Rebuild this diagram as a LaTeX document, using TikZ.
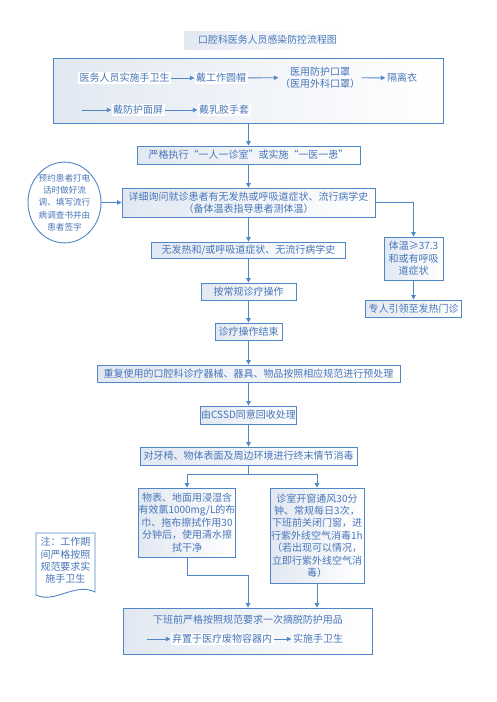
\documentclass[tikz,border=0pt]{standalone}
\usepackage{fontspec}
\setmainfont{Noto Sans CJK SC}
\usetikzlibrary{arrows.meta,shapes.geometric}
\definecolor{lineblue}{RGB}{79,134,198}
\definecolor{textblue}{RGB}{72,118,184}
\definecolor{boxfill}{RGB}{226,232,242}
\begin{document}
\begin{tikzpicture}[x=1pt,y=-1pt,
        box/.style={draw=lineblue,line width=0.9pt,left color=boxfill,right color=white,text=textblue,font=\fontsize{10}{12.4}\selectfont,inner sep=0pt,align=center},
        lbl/.style={fill=white,text=textblue,font=\fontsize{10}{12.4}\selectfont,inner sep=1.5pt,align=center},
        arr/.style={draw=lineblue,line width=0.9pt,-{Triangle[length=4.5pt,width=4.5pt]}},
        ln/.style={draw=lineblue,line width=0.9pt}]
        \useasboundingbox (0,0) rectangle (496,702);

        \shade[left color=boxfill,right color=white] (184,31) rectangle (342,49);
        \node[text=textblue,font=\fontsize{9.9}{12}\selectfont] (title) at (267.5,40){口腔科医务人员感染防控流程图};

        \node[box,minimum width=390pt,minimum height=65pt] (wear) at (248.5,90.5){};
        \node[lbl] (hw1) at (124.5,78){医务人员实施手卫生};
        \node[lbl] (cap) at (221,78){戴工作圆帽};
        \node[lbl,fill=none] (mask) at (320,77.5){医用防护口罩\\（医用外科口罩）};
        \node[lbl] (gown) at (402,78){隔离衣};
        \coordinate (r0) at (82,110);
        \node[lbl] (shield) at (138,110){戴防护面屏};
        \node[lbl] (gloves) at (224,110){戴乳胶手套};
        \draw[arr] (hw1) -- (cap);
        \draw[arr] (cap) -- (mask);
        \draw[arr] (mask) -- (gown);
        \draw[arr] (r0) -- (shield);
        \draw[arr] (shield) -- (gloves);

        \node[box,minimum width=223pt,minimum height=18pt] (strict) at (248.5,155){严格执行“一人一诊室”或实施“一医一患”};
        \node[box,minimum width=253pt,minimum height=29pt] (inquire) at (248.5,202.5){详细询问就诊患者有无发热或呼吸道症状、流行病学史\\（备体温表指导患者测体温）};
        \node[draw=lineblue,line width=0.9pt,ellipse,fill=white,inner sep=0pt,minimum width=65pt,minimum height=75pt,text=textblue,align=center,font=\fontsize{8.6}{12.3}\selectfont] (prebook) at (64.5,202.5){预约患者打电\\话时做好流\\调、填写流行\\病调查书并由\\患者签字};
        \node[box,minimum width=194pt,minimum height=16pt] (nofever) at (248.5,250){无发热和/或呼吸道症状、无流行病学史};
        \node[box,minimum width=95pt,minimum height=17pt] (routine) at (248.5,291.5){按常规诊疗操作};
        \node[box,minimum width=67pt,minimum height=17pt] (done) at (248.5,331.5){诊疗操作结束};
        \node[box,minimum width=59pt,minimum height=43pt] (fever) at (413.5,258.5){体温≥37.3\\和或有呼吸\\道症状};
        \node[box,minimum width=96pt,minimum height=17pt] (guide) at (413.5,308.5){专人引领至发热门诊};
        \node[box,minimum width=303pt,minimum height=17pt] (reuse) at (248.5,373.5){重复使用的口腔科诊疗器械、器具、物品按照相应规范进行预处理};
        \node[box,minimum width=96pt,minimum height=18pt] (cssd) at (248.5,415){由CSSD同意回收处理};
        \node[box,minimum width=217pt,minimum height=18pt] (final) at (248.5,456){对牙椅、物体表面及周边环境进行终末情节消毒};
        \node[box,minimum width=94pt,minimum height=69pt] (surf) at (187,522.5){物表、地面用浸湿含\\有效氯1000mg/L的布\\巾、拖布擦拭作用30\\分钟后，使用清水擦\\拭干净};
        \node[box,minimum width=94pt,minimum height=95pt] (air) at (317,535.5){诊室开窗通风30分\\钟、常规每日3次，\\下班前关闭门窗，进\\行紫外线空气消毒1h\\（若出现可以情况，\\立即行紫外线空气消\\毒）};

        \node[box,minimum width=249pt,minimum height=46pt] (doff) at (247.5,631){};
        \node[lbl,fill=none] (doff1) at (248,620){下班前严格按照规范要求一次摘脱防护用品};
        \coordinate (d0) at (147,639);
        \node[lbl] (discard) at (222,639){弃置于医疗废物容器内};
        \node[lbl] (hw2) at (318,639){实施手卫生};
        \draw[arr] (d0) -- (discard);
        \draw[arr] (discard) -- (hw2);

        \draw[ln,fill=white] (36,533) -- (95,533) -- (95,592) .. controls (75,582) and (55,604) .. (36,595) -- cycle;
        \node[text=textblue,align=center,font=\fontsize{10}{12.4}\selectfont] (note) at (65.5,560.5){注：工作期\\间严格按照\\规范要求实\\施手卫生};

        \draw[arr] (wear.south) -- (strict.north);
        \draw[arr] (strict) -- (inquire);
        \draw[arr] (prebook) -- (inquire);
        \draw[arr] (inquire) -- (nofever);
        \draw[arr] (inquire.east) -| (fever.north);
        \draw[arr] (fever) -- (guide);
        \draw[arr] (nofever) -- (routine);
        \draw[arr] (routine) -- (done);
        \draw[arr] (done) -- (reuse);
        \draw[arr] (reuse) -- (cssd);
        \draw[arr] (cssd) -- (final);
        \coordinate (split) at (248.5,474);
        \draw[ln] (final.south) -- (split);
        \draw[arr] (split) -| (surf.north);
        \draw[arr] (split) -| (air.north);
        \coordinate (join) at (248,575);
        \draw[arr] (surf.south) |- (join) -- (join |- doff.north);
        \draw[arr] (air.south) -- (air.south |- doff.north);
    \end{tikzpicture}
\end{document}
